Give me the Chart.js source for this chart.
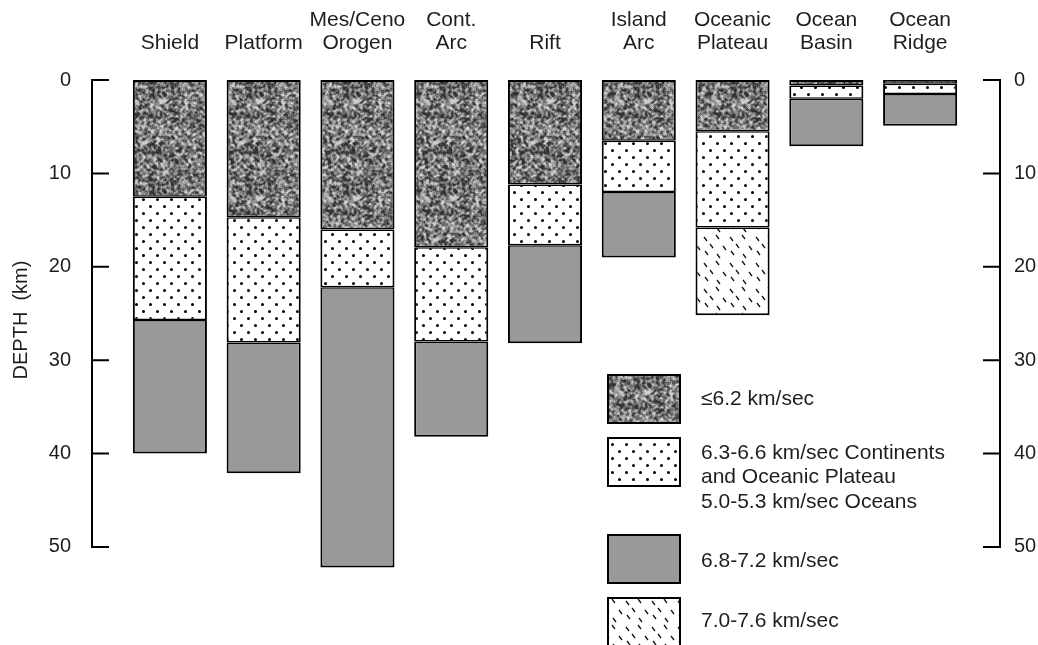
<!DOCTYPE html>
<html>
<head>
<meta charset="utf-8">
<title>Crustal velocity structure</title>
<script src="https://cdn.jsdelivr.net/npm/chart.js@4.4.1/dist/chart.umd.min.js"></script>
<style>
    html, body { margin: 0; padding: 0; background: #fff; }
    #chart { display: block; }
</style>
</head>
<body>
<canvas id="chart" width="1038" height="645"></canvas>
<script>
// Crustal columns, depth (km) of the base of each velocity layer
const categories = [
    ['Shield'], ['Platform'], ['Mes/Ceno', 'Orogen'], ['Cont.', 'Arc'], ['Rift'],
    ['Island', 'Arc'], ['Oceanic', 'Plateau'], ['Ocean', 'Basin'], ['Ocean', 'Ridge']
];
const upperBase  = [12.5, 14.7, 16.0, 17.9, 11.2, 6.5, 5.5, 0.6, 0.4];
const middleBase = [25.7, 28.1, 22.2, 28.0, 17.7, 12.0, 15.8, 2.0, 1.5];
const lowerBase  = [40.0, 42.1, 52.2, 38.2, 28.2, 19.0, null, 7.1, 4.9];
const deepBase   = [null, null, null, null, null, null, 25.2, null, null];

const depthTicks = [0, 10, 20, 30, 40, 50];
const legendLabels = [
    ['≤6.2 km/sec'],
    ['6.3-6.6 km/sec Continents', 'and Oceanic Plateau', '5.0-5.3 km/sec Oceans'],
    ['6.8-7.2 km/sec'],
    ['7.0-7.6 km/sec']
];

const FONT = '"Liberation Sans", Arial, Helvetica, sans-serif';
const TEXT = '#1e1e1e';
const DEPTH_MAX = 54.5;

// --- fill patterns ---
function noisePattern(ctx) {
    const n = 97;
    const c = document.createElement('canvas');
    c.width = c.height = n;
    const g = c.getContext('2d');
    let seed = 424242;
    const rnd = () => (seed = (seed * 16807) % 2147483647) / 2147483647;
    const raw = new Float32Array(n * n);
    for (let i = 0; i < raw.length; i++) raw[i] = rnd();
    const img = g.createImageData(n, n);
    for (let y = 0; y < n; y++) {
        for (let x = 0; x < n; x++) {
            let s = 0;
            for (let dy = -1; dy <= 1; dy++) {
                for (let dx = -1; dx <= 1; dx++) {
                    s += raw[((y + dy + n) % n) * n + ((x + dx + n) % n)];
                }
            }
            const v = Math.max(50, Math.min(210, 118 + (s / 9 - 0.5) * 400 + (raw[y * n + x] - 0.5) * 40));
            const k = (y * n + x) * 4;
            img.data[k] = img.data[k + 1] = img.data[k + 2] = v;
            img.data[k + 3] = 255;
        }
    }
    g.putImageData(img, 0, 0);
    return ctx.createPattern(c, 'repeat');
}

function dotPattern(ctx) {
    const c = document.createElement('canvas');
    c.width = c.height = 14;
    const g = c.getContext('2d');
    g.fillStyle = '#fff';
    g.fillRect(0, 0, 14, 14);
    g.fillStyle = '#000';
    [[3, 3], [10, 10]].forEach(([x, y]) => {
        g.beginPath();
        g.arc(x + 0.5, y + 0.5, 1.5, 0, Math.PI * 2);
        g.fill();
    });
    return ctx.createPattern(c, 'repeat');
}

function dashPattern(ctx) {
    const c = document.createElement('canvas');
    c.width = c.height = 26;
    const g = c.getContext('2d');
    g.fillStyle = '#fff';
    g.fillRect(0, 0, 26, 26);
    g.strokeStyle = '#111';
    g.lineWidth = 1.3;
    [[2, 3], [14, 1], [8, 10], [21, 12], [3, 17], [15, 20]].forEach(([x, y]) => {
        g.beginPath();
        g.moveTo(x, y);
        g.lineTo(x + 3, y + 4);
        g.stroke();
    });
    return ctx.createPattern(c, 'repeat');
}

const canvas = document.getElementById('chart');
const ctx = canvas.getContext('2d');
const fills = [noisePattern(ctx), dotPattern(ctx), '#999999', dashPattern(ctx)];

const span = (tops, bases) => bases.map((b, i) => (b == null ? null : [tops[i], b]));
const zeros = categories.map(() => 0);

// --- axes, title, legend drawn over the chart ---
const depthAxes = {
    id: 'depthAxes',
    afterDraw(chart) {
        const c = chart.ctx;
        const y = chart.scales.y;
        const y2 = chart.scales.y2;
        const top = y.getPixelForValue(depthTicks[0]);
        const bottom = y.getPixelForValue(depthTicks[depthTicks.length - 1]);
        const sides = [[y.right - 31, 16], [y2.left + 33, -16]];

        c.save();
        c.strokeStyle = '#000';
        c.lineWidth = 2;
        c.lineCap = 'square';
        sides.forEach(([x, len]) => {
            c.beginPath();
            c.moveTo(x, top);
            c.lineTo(x, bottom);
            depthTicks.forEach(v => {
                const py = y.getPixelForValue(v);
                c.moveTo(x, py);
                c.lineTo(x + len, py);
            });
            c.stroke();
        });

        // axis title
        c.fillStyle = TEXT;
        c.font = '20px ' + FONT;
        c.textAlign = 'center';
        c.textBaseline = 'middle';
        c.translate(21, 320);
        c.rotate(-Math.PI / 2);
        c.fillText('DEPTH  (km)', 0, 0);
        c.restore();

        // legend
        c.save();
        const boxTops = [375, 438, 535, 598];
        const lineStarts = [399, 453, 561, 621];
        legendLabels.forEach((lines, i) => {
            c.fillStyle = fills[i];
            c.fillRect(608, boxTops[i], 72, 48);
            c.strokeStyle = '#000';
            c.lineWidth = 2;
            c.strokeRect(608, boxTops[i], 72, 48);
            c.fillStyle = TEXT;
            c.font = '21px ' + FONT;
            c.textAlign = 'left';
            c.textBaseline = 'middle';
            lines.forEach((t, j) => c.fillText(t, 701, lineStarts[i] + j * 24.5));
        });
        c.restore();
    }
};

const layerStyle = (fill, top, bottom) => ({
    backgroundColor: fill,
    borderColor: '#000',
    borderWidth: { top: top, bottom: bottom, left: 2, right: 2 },
    borderSkipped: false,
    grouped: false,
    barPercentage: 0.79,
    categoryPercentage: 1
});

const depthScale = (position, padding, width) => ({
    position: position,
    reverse: true,
    min: 0,
    max: DEPTH_MAX,
    grid: { display: false },
    border: { display: false },
    ticks: {
        stepSize: 10,
        color: TEXT,
        font: { family: FONT, size: 20 },
        padding: padding,
        callback: v => (depthTicks.includes(v) ? v : null)
    },
    afterFit: s => { s.width = width; }
});

new Chart(canvas, {
    type: 'bar',
    data: {
        labels: categories,
        datasets: [
            Object.assign({ label: legendLabels[0][0], data: span(zeros, upperBase) }, layerStyle(fills[0], 2, 1.5)),
            Object.assign({ label: legendLabels[1][0], data: span(upperBase, middleBase) }, layerStyle(fills[1], 1.5, 1.5)),
            Object.assign({ label: legendLabels[2][0], data: span(middleBase, lowerBase) }, layerStyle(fills[2], 1.5, 2)),
            Object.assign({ label: legendLabels[3][0], data: span(middleBase, deepBase) }, layerStyle(fills[3], 1.5, 2))
        ]
    },
    options: {
        responsive: false,
        animation: false,
        layout: { padding: { top: 0, bottom: 5, left: 0, right: 0 } },
        plugins: {
            legend: { display: false },
            tooltip: { enabled: false }
        },
        scales: {
            x: {
                position: 'top',
                grid: { display: false },
                border: { display: false },
                ticks: {
                    color: TEXT,
                    font: { family: FONT, size: 21, lineHeight: 1.1 },
                    padding: 17,
                    maxRotation: 0,
                    autoSkip: false
                },
                afterFit: s => { s.height = 80; }
            },
            y: depthScale('left', 44, 123),
            y2: depthScale('right', 39, 71)
        }
    },
    plugins: [depthAxes]
});
</script>
</body>
</html>
